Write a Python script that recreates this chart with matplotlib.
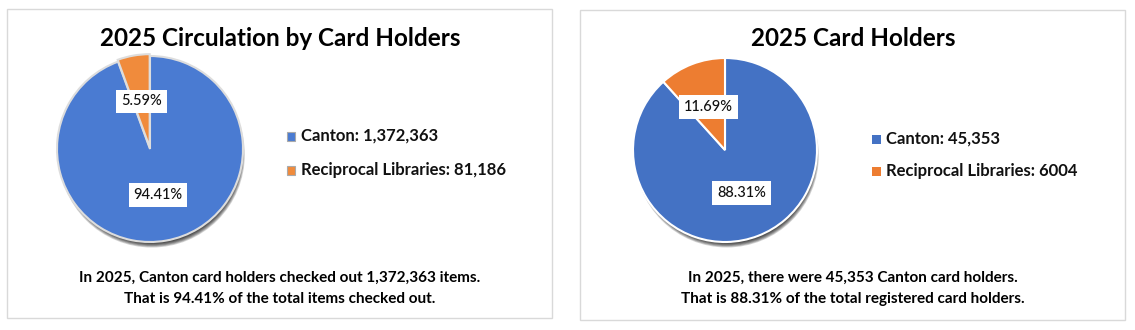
import matplotlib
matplotlib.use("Agg")
import matplotlib.pyplot as plt
from matplotlib.patches import Rectangle, Circle

# --- data -----------------------------------------------------------------
categories = ["Canton", "Reciprocal Libraries"]

circ_values = [1372363, 81186]
circ_legend = ["Canton: 1,372,363", "Reciprocal Libraries: 81,186"]
circ_title = "2025 Circulation by Card Holders"
circ_note = ["In 2025, Canton card holders checked out 1,372,363 items.",
             "That is 94.41% of the total items checked out."]

card_values = [45353, 6004]
card_legend = ["Canton: 45,353", "Reciprocal Libraries: 6004"]
card_title = "2025 Card Holders"
card_note = ["In 2025, there were 45,353 Canton card holders.",
             "That is 88.31% of the total registered card holders."]

# --- layout ---------------------------------------------------------------
W, H = 1135, 330
FONT = "Lato"
fig = plt.figure(figsize=(W / 100, H / 100), dpi=100)
fig.patch.set_facecolor("white")


def px(x, y):
    return x / W, 1 - y / H


def panel(x0, y0, x1, y1):
    fig.patches.append(Rectangle((x0 / W, 1 - y1 / H), (x1 - x0) / W, (y1 - y0) / H,
                                 transform=fig.transFigure, fill=False,
                                 edgecolor="#D9D9D9", linewidth=1.0))


def pie_axes(cx, cy, r):
    m = 1.15
    ax = fig.add_axes([(cx - m * r) / W, (H - cy - m * r) / H, 2 * m * r / W, 2 * m * r / H])
    ax.set_xlim(-m, m)
    ax.set_ylim(-m, m)
    ax.set_aspect("equal")
    ax.axis("off")
    # soft drop shadow under the pie
    for i in range(8):
        ax.add_patch(Circle((0.02, -0.06), 1.0 - 0.008 * i, color="black",
                            alpha=0.16, lw=0, zorder=0))
    return ax


def draw_pie(cx, cy, r, values, colors, edge, explode):
    ax = pie_axes(cx, cy, r)
    wedges, _, autotexts = ax.pie(values, colors=colors, startangle=90, counterclock=False,
                                  explode=explode, autopct="%.2f%%", pctdistance=0.5,
                                  radius=1.0, center=(0, 0), frame=False,
                                  wedgeprops=dict(edgecolor=edge, linewidth=1.5))
    for w in wedges:
        w.set_zorder(2)
    for t in autotexts:
        t.set_fontfamily(FONT)
        t.set_fontsize(10.5)
        t.set_fontweight("medium")
        t.set_color("#111111")
        t.set_zorder(5)
        t.set_bbox(dict(facecolor="white", edgecolor="none", pad=3.5))
    ax.set_xlim(-1.15, 1.15)
    ax.set_ylim(-1.15, 1.15)
    return ax


def legend(x, ys, labels, colors, edge):
    for y, lab, c in zip(ys, labels, colors):
        s = 9
        fig.patches.append(Rectangle(((x - s / 2) / W, 1 - (y + s / 2) / H), s / W, s / H,
                                     transform=fig.transFigure, facecolor=c,
                                     edgecolor=edge, linewidth=0.8))
        fig.text(*px(x + 10, y), lab, fontfamily=FONT, fontweight="bold",
                 fontsize=12, va="center", ha="left", color="#111111")


def title_and_note(cx, title, note):
    fig.text(*px(cx, 38), title, fontfamily=FONT, fontweight="bold", fontsize=17.5,
             ha="center", va="center", color="black")
    fig.text(*px(cx, 278), note[0], fontfamily=FONT, fontweight="bold", fontsize=11,
             ha="center", va="center", color="black")
    fig.text(*px(cx, 299), note[1], fontfamily=FONT, fontweight="bold", fontsize=11,
             ha="center", va="center", color="black")


# left panel: circulation
panel(7, 9, 552, 318)
draw_pie(150, 149, 93, circ_values, ["#4A7BD2", "#F08B3C"], "#DDDDDD", [0, 0.02])
legend(291, [136, 170], circ_legend, ["#4A7BD2", "#F08B3C"], "#AAAAAA")
title_and_note(280, circ_title, circ_note)

# right panel: card holders
panel(580, 10, 1125, 320)
draw_pie(725, 150, 92, card_values, ["#4472C4", "#ED7D31"], "white", [0, 0])
legend(876, [139, 171], card_legend, ["#4472C4", "#ED7D31"], "none")
title_and_note(853, card_title, card_note)

fig.savefig("out.png", dpi=100, facecolor="white")
